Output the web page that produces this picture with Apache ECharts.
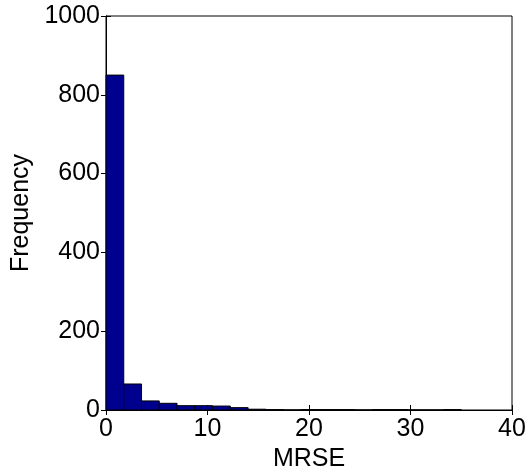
<!DOCTYPE html>
<html>
<head>
<meta charset="utf-8">
<script src="https://cdn.jsdelivr.net/npm/echarts@6/dist/echarts.min.js"></script>
<style>
  html, body { margin: 0; padding: 0; background: #fff; }
  #chart { width: 530px; height: 468px; }
</style>
</head>
<body>
<div id="chart"></div>
<script>
// histogram bins (20 bins of width 1.75 from 0 to 35)
const binStart = 0;
const binWidth = 1.75;
const counts = [850, 66, 23, 17, 11, 11, 10, 6, 2, 1, 0, 1, 1, 1, 0, 1, 1, 0, 0, 1];
const xTicks = [0, 10, 20, 30, 40];
const yTicks = [0, 200, 400, 600, 800, 1000];

const bins = counts.map((c, i) => [binStart + i * binWidth, binStart + (i + 1) * binWidth, c]);

const font = 'Liberation Sans, Arial, sans-serif';
const fs = 25;
const chart = echarts.init(document.getElementById('chart'));

const tickStyle = { show: true, inside: true, length: 5, lineStyle: { color: '#000', width: 1 } };
const plain = v => String(v);

chart.setOption({
  animation: false,
  grid: {
    left: 106, right: 18, top: 16, bottom: 58, outerBoundsMode: 'none',
    show: true, borderColor: '#000', borderWidth: 1
  },
  xAxis: [{
    type: 'value', min: xTicks[0], max: xTicks[xTicks.length - 1], interval: 10,
    name: 'MRSE', nameLocation: 'middle', nameGap: 31,
    nameTextStyle: { color: '#000', fontSize: fs, fontFamily: font },
    axisLine: { lineStyle: { color: '#000' } },
    axisTick: tickStyle,
    axisLabel: { color: '#000', fontSize: fs, fontFamily: font, margin: 7, formatter: plain },
    splitLine: { show: false }
  }, {
    type: 'value', position: 'top', min: xTicks[0], max: xTicks[xTicks.length - 1], interval: 10,
    axisLine: { lineStyle: { color: '#000' } },
    axisTick: tickStyle, axisLabel: { show: false }, splitLine: { show: false }
  }],
  yAxis: [{
    type: 'value', min: yTicks[0], max: yTicks[yTicks.length - 1], interval: 200,
    name: 'Frequency', nameLocation: 'middle', nameGap: 72,
    nameTextStyle: { color: '#000', fontSize: fs, fontFamily: font },
    axisLine: { show: true, lineStyle: { color: '#000' } },
    axisTick: tickStyle,
    axisLabel: { color: '#000', fontSize: fs, fontFamily: font, margin: 6, formatter: plain },
    splitLine: { show: false }
  }, {
    type: 'value', position: 'right', min: yTicks[0], max: yTicks[yTicks.length - 1], interval: 200,
    axisLine: { show: true, lineStyle: { color: '#000' } },
    axisTick: tickStyle, axisLabel: { show: false }, splitLine: { show: false }
  }],
  series: [{
    type: 'custom',
    xAxisIndex: 0, yAxisIndex: 0,
    data: bins,
    renderItem: function (params, api) {
      const p0 = api.coord([api.value(0), api.value(2)]);
      const p1 = api.coord([api.value(1), 0]);
      return {
        type: 'rect',
        shape: { x: p0[0], y: p0[1], width: p1[0] - p0[0], height: p1[1] - p0[1] },
        style: { fill: '#00008f', stroke: '#000', lineWidth: 1 }
      };
    }
  }]
});
</script>
</body>
</html>
